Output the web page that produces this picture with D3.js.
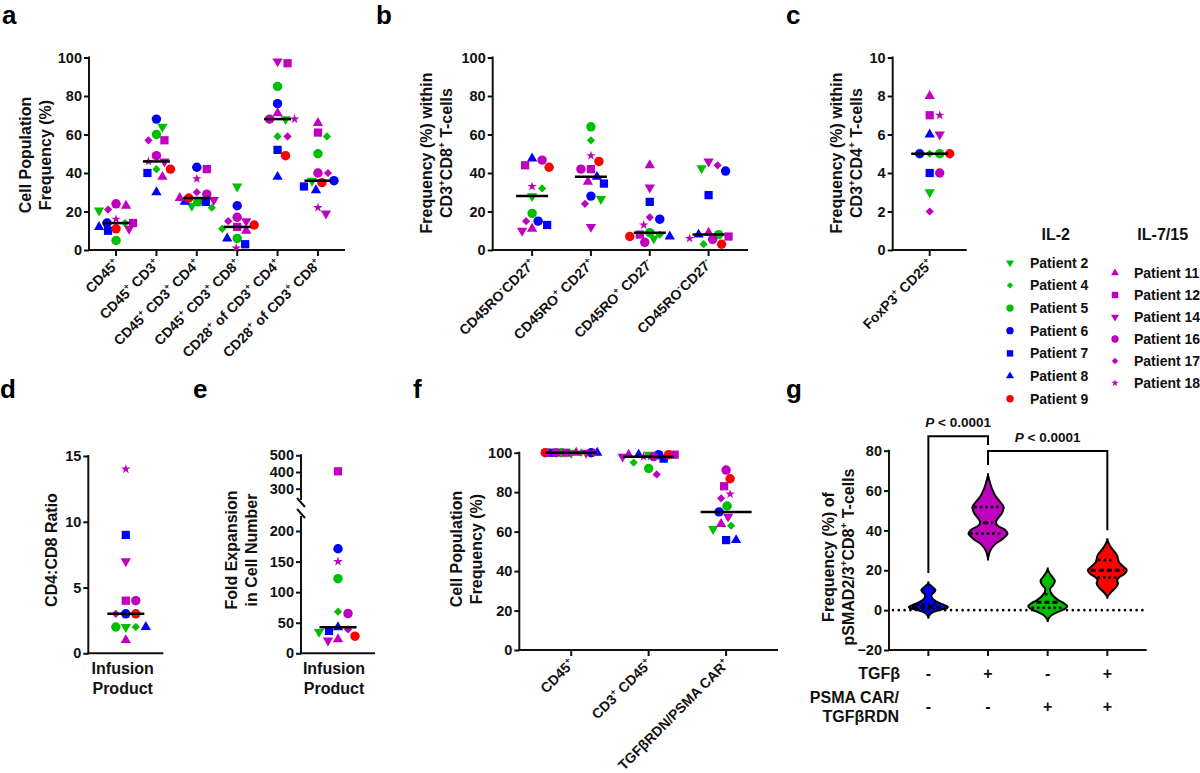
<!DOCTYPE html>
<html><head><meta charset="utf-8">
<script src="https://cdn.jsdelivr.net/npm/d3@7"></script>
<style>
body{margin:0;background:#fff}
svg{display:block}
</style></head><body>
<svg id="chart" width="1200" height="773"></svg>
<script>
// ---------------- DATA ----------------
const il2Patients = ["Patient 2","Patient 4","Patient 5","Patient 6","Patient 7","Patient 8","Patient 9"];
const il715Patients = ["Patient 11","Patient 12","Patient 14","Patient 16","Patient 17","Patient 18"];
const patients = il2Patients.concat(il715Patients);

// panel a (values in patient order above)
const aCategories = ["CD45{+}","CD45{+} CD3{+}","CD45{+} CD3{+} CD4{+}","CD45{+} CD3{+} CD8{+}","CD28{+} of CD3{+} CD4{+}","CD28{+} of CD3{+} CD8{+}"];
const aValues = [
  [20.5,14,5,14,10,12,11,23,14,11,24,21,16],
  [64,42,60,68,40,30,42,38,57,46,49,57,46],
  [23,22,25,43,25,25,27,27,42,26,29,30,37],
  [33,11,6,23,3,6,13,10,12,15,17,15,1],
  [68,59,85,76,52,38,49,71,97,98,68,59,68],
  [36,59,50,36,33,31,35,66,61,19,40,40,22]
];
const aTicks = [0,20,40,60,80,100];

// panel b
const bCategories = ["CD45RO{-}CD27{+}","CD45RO{+} CD27{+}","CD45RO{+} CD27{-}","CD45RO{-}CD27{-}"];
const bValues = [
  [28,32,19,15,13,47.5,43,11,44,10,46.7,15,33],
  [26.5,57,64,28,34.5,38,46,35.5,42,12,42,24,49],
  [6,8,9,16,25,7,7,44,8,32.5,4,17,13],
  [42.5,3,8,41,28.5,8,3,9,7,46,5.5,44,6]
];
const bTicks = [0,20,40,60,80,100];

// panel c
const cCategories = ["FoxP3{+} CD25{+}"];
const cValues = [[3,5,5,5,4,6,5,8,7,6,4,2,7]];
const cTicks = [0,2,4,6,8,10];

// panel d
const dCategories = ["Infusion Product"];
const dValues = [[2,2,2,3,9,2,3,1,4,7,4,3,14]];
const dTicks = [0,5,10,15];

// panel e (broken axis)
const eCategories = ["Infusion Product"];
const eValues = [[35,68,122,171,36.5,42.5,28,23,404,21,65,39,150]];
const eLowerTicks = [0,50,100,150,200];
const eUpperTicks = [300,400,500];

// panel f
const fCategories = ["CD45{+}","CD3{+} CD45{+}","TGFβRDN/PSMA CAR{+}"];
const fValues = [
  [100,100,100,100,100,100,100,100,100,100,100,100,100],
  [99,95,92,99,97,99,99,99,99,98,98,89,98],
  [61.3,63,73,70,55.7,55.7,86.8,63.9,83,67.6,91.2,76.9,79]
];
const fTicks = [0,20,40,60,80,100];

// panel g (violins: [value, relative half-width] profiles)
const gGroups = ["ctrl","tgfb","car","car+tgfb"];
const gTGFb = ["-","+","-","+"];
const gCAR = ["-","-","+","+"];
const gProfiles = [
  [[-3.3,0],[-1.5,0.15],[0,0.55],[1,0.95],[1.7,1],[3,0.7],[4.5,0.38],[6,0.2],[7.5,0.16],[9,0.3],[10,0.36],[11.5,0.22],[13.4,0]],
  [[25.9,0],[30,0.12],[33,0.35],[36,0.78],[38.5,1],[40.5,0.85],[42,0.55],[43.8,0.4],[46,0.5],[48.5,0.7],[51.8,0.8],[54,0.65],[57,0.4],[61,0.2],[64,0.1],[67.7,0]],
  [[-5,0],[-3,0.15],[-1,0.5],[0.5,0.85],[2,1],[3.5,0.82],[5,0.55],[7,0.3],[9,0.15],[10.9,0.13],[12.5,0.27],[14.7,0.37],[16.5,0.25],[18.5,0.1],[20.4,0]],
  [[6.7,0],[9,0.18],[11,0.4],[13.4,0.55],[15,0.5],[16.4,0.6],[18,0.85],[20,1],[22,0.8],[24,0.6],[25.5,0.55],[27.5,0.5],[29.5,0.35],[32,0.15],[35.1,0]]
];
const gQuartiles = [[0.4,1.6,3],[38.5,43.8,51.8],[1.2,4,8],[16.4,20,25.1]];
const gTicks = [-20,0,20,40,60,80];
const gComparisons = [["ctrl","tgfb","P < 0.0001"],["tgfb","car+tgfb","P < 0.0001"]];

// ---------------- STYLE ----------------
const FONT = '"Liberation Sans", Arial, Helvetica, sans-serif';
const INK = "#111";
const GREEN = "#00bf00", BLUE = "#0000ff", RED = "#ff0000", MAG = "#bf00bf";
const patientColors = [GREEN,GREEN,GREEN,BLUE,BLUE,BLUE,RED,MAG,MAG,MAG,MAG,MAG,MAG];
const patientShapes = ["triDown","diamond","circle","circle","square","triUp","circle","triUp","square","triDown","circle","diamond","star"];
const violinColors = [BLUE, MAG, GREEN, RED];

const svg = d3.select("#chart").attr("font-family", FONT).attr("font-weight", "bold");

const shapeDefs = {
  circle:[d3.symbolCircle,70,0], square:[d3.symbolSquare,68,0],
  triUp:[d3.symbolTriangle,46,0], triDown:[d3.symbolTriangle,46,180],
  diamond:[d3.symbolSquare,34,45], star:[d3.symbolStar,28,0]
};
function drawSymbol(g, shape, color, x, y, scale){
  const [t, s, rot] = shapeDefs[shape];
  g.append("path").attr("d", d3.symbol().type(t).size(s*(scale||1))())
    .attr("transform", `translate(${x},${y}) rotate(${rot})`).attr("fill", color);
}

function rich(text, str, fs){
  const parts = str.split(/(\{[^}]*\})/).filter(p => p.length);
  let sup = false;
  parts.forEach(p => {
    if (p.startsWith("{")) {
      text.append("tspan").attr("font-size", fs*0.62).attr("dy", -fs*0.42).text(p.slice(1,-1));
      sup = true;
    } else {
      const t = text.append("tspan").attr("font-size", fs).text(p);
      if (sup) { t.attr("dy", fs*0.42); sup = false; }
    }
  });
  return text;
}

function swarm(values, cx, yScale, D, maxHalf){
  const order = d3.range(values.length).sort((a,b) => d3.descending(values[a], values[b]));
  const placed = [], xs = new Array(values.length);
  for (const i of order) {
    const y = yScale(values[i]);
    let best = 0, bestScore = -Infinity, done = false;
    for (let k = 0; k <= Math.floor(maxHalf) && !done; k++) {
      for (const s of (k === 0 ? [0] : [k, -k])) {
        const md = placed.length ? d3.min(placed, p => Math.hypot(p.x - s, p.y - y)) : Infinity;
        if (md >= D) { best = s; done = true; break; }
        if (md > bestScore) { bestScore = md; best = s; }
      }
    }
    placed.push({x: best, y});
    xs[i] = cx + best;
  }
  return xs;
}

function yAxis(scale, x, ticks, yTop, yBot){
  const g = svg.append("g").attr("transform", `translate(${x},0)`);
  g.call(d3.axisLeft(scale).tickValues(ticks).tickSize(5).tickPadding(2).tickSizeOuter(0));
  g.select(".domain").remove();
  g.selectAll(".tick line").attr("stroke", INK).attr("stroke-width", 2);
  g.selectAll(".tick text").attr("fill", INK).attr("font-size", 14.5)
    .attr("font-family", FONT).attr("font-weight", "bold");
  g.attr("font-family", null).attr("font-size", null);
  if (yTop !== undefined)
    svg.append("line").attr("x1", x).attr("x2", x).attr("y1", yTop - 1).attr("y2", yBot + 1)
      .attr("stroke", INK).attr("stroke-width", 2);
  return g;
}
function xAxisLine(x0, x1, y){
  svg.append("line").attr("x1", x0 - 1).attr("x2", x1).attr("y1", y).attr("y2", y)
    .attr("stroke", INK).attr("stroke-width", 2);
}
function yTitle(lines, xs, cy){
  lines.forEach((l, i) => {
    const t = svg.append("text").attr("transform", `translate(${xs[i]},${cy}) rotate(-90)`)
      .attr("text-anchor", "middle").attr("dy", "0.36em").attr("fill", INK);
    rich(t, l, 16);
  });
}
function letter(ch, x, y){
  svg.append("text").attr("x", x).attr("y", y).attr("font-size", 26).attr("fill", "#000").text(ch);
}

function catPanel(o){
  const y = d3.scaleLinear().domain(o.domain).range([o.yBot, o.yTop]);
  const x = d3.scalePoint().domain(o.cats).range([o.x0, o.x1]).padding(0.67);
  yAxis(y, o.x0, o.ticks, o.yTop, o.yBot);
  xAxisLine(o.x0, o.x1, o.yBot);
  const pg = svg.append("g");
  o.cats.forEach((c, ci) => {
    const cx = x(c);
    if (o.tickMarks) svg.append("line").attr("x1", cx).attr("x2", cx).attr("y1", o.yBot).attr("y2", o.yBot + 6)
      .attr("stroke", INK).attr("stroke-width", 2);
    const vals = o.values[ci];
    const xs = swarm(vals, cx, y, 9.5, o.maxHalf);
    vals.forEach((v, i) => drawSymbol(pg, patientShapes[i], patientColors[i], xs[i], y(v)));
    const med = d3.median(vals);
    svg.append("line").attr("x1", cx - o.medianHalf).attr("x2", cx + o.medianHalf)
      .attr("y1", y(med)).attr("y2", y(med)).attr("stroke", "#000").attr("stroke-width", 2.5);
    if (o.rotLabels) {
      const t = svg.append("text").attr("transform", `translate(${cx + 4},${o.yBot + 15}) rotate(-45)`)
        .attr("text-anchor", "end").attr("fill", INK);
      rich(t, c, 14);
    }
  });
  return {x, y};
}

// ---------------- PANELS ----------------
letter("a", 2, 24); letter("b", 376, 24); letter("c", 786, 24);
letter("d", 0, 398); letter("e", 193, 398); letter("f", 413, 398); letter("g", 786, 398);

// a
catPanel({x0:89, x1:345, yTop:57.5, yBot:250, domain:[0,100], ticks:aTicks, cats:aCategories,
  values:aValues, medianHalf:13.5, maxHalf:17, tickMarks:true, rotLabels:true});
yTitle(["Cell Population","Frequency (%)"], [25,45], 155);

// b
catPanel({x0:492.7, x1:748, yTop:57.5, yBot:250, domain:[0,100], ticks:bTicks, cats:bCategories,
  values:bValues, medianHalf:16, maxHalf:22, tickMarks:true, rotLabels:true});
yTitle(["Frequency (%) within","CD3{+}CD8{+} T-cells"], [426.7,446], 153);

// c
catPanel({x0:892.7, x1:966.7, yTop:57.5, yBot:250, domain:[0,10], ticks:cTicks, cats:cCategories,
  values:cValues, medianHalf:18.5, maxHalf:30, tickMarks:true, rotLabels:true});
yTitle(["Frequency (%) within","CD3{+}CD4{+} T-cells"], [836.7,856], 153);

// legend
function legendCol(title, list, offset, tx, sx, lx, y0, dy){
  svg.append("text").attr("x", tx).attr("y", 240).attr("text-anchor", "middle")
    .attr("font-size", 16).attr("fill", INK).text(title);
  list.forEach((p, i) => {
    const idx = offset + i, yy = y0 + dy*i;
    drawSymbol(svg, patientShapes[idx], patientColors[idx], sx, yy, 0.6);
    svg.append("text").attr("x", lx).attr("y", yy).attr("dy", "0.36em").attr("font-size", 14)
      .attr("fill", INK).text(p);
  });
}
legendCol("IL-2", il2Patients, 0, 1055.7, 1010, 1030, 262.7, 22.67);
legendCol("IL-7/15", il715Patients, 7, 1162.7, 1115, 1134, 273, 22);

// d
catPanel({x0:88.3, x1:163.3, yTop:456, yBot:653.3, domain:[0,15], ticks:dTicks, cats:dCategories,
  values:dValues, medianHalf:18.5, maxHalf:30, tickMarks:false, rotLabels:false});
yTitle(["CD4:CD8 Ratio"], [51.7], 550);
function twoLineLabel(x, words){
  words.forEach((w, i) => svg.append("text").attr("x", x).attr("y", 674 + 20*i)
    .attr("text-anchor", "middle").attr("font-size", 16).attr("fill", INK).text(w));
}
twoLineLabel(122.7, dCategories[0].split(" "));

// e (broken y axis)
(function(){
  const x0 = 301, x1 = 375, yBot = 653.3;
  const yLow = d3.scaleLinear().domain([0,200]).range([653.3,531]);
  const yUp = d3.scaleLinear().domain([300,500]).range([488.7,455.3]);
  const y = v => v > 250 ? yUp(v) : yLow(v);
  yAxis(yLow, x0, eLowerTicks);
  yAxis(yUp, x0, eUpperTicks);
  svg.append("line").attr("x1", x0).attr("x2", x0).attr("y1", 454.3).attr("y2", 500)
    .attr("stroke", INK).attr("stroke-width", 2);
  svg.append("line").attr("x1", x0).attr("x2", x0).attr("y1", 516).attr("y2", yBot + 1)
    .attr("stroke", INK).attr("stroke-width", 2);
  [502.5, 513.5].forEach(yy => svg.append("line").attr("x1", x0 - 4).attr("x2", x0 + 4)
    .attr("y1", yy - 4.5).attr("y2", yy + 4.5).attr("stroke", INK).attr("stroke-width", 2));
  xAxisLine(x0, x1, yBot);
  const x = d3.scalePoint().domain(eCategories).range([x0, x1]).padding(0.67);
  const cx = x(eCategories[0]);
  const vals = eValues[0];
  const xs = swarm(vals, cx, y, 9.5, 30);
  vals.forEach((v, i) => drawSymbol(svg, patientShapes[i], patientColors[i], xs[i], y(v)));
  const med = d3.median(vals);
  svg.append("line").attr("x1", cx - 18.5).attr("x2", cx + 18.5).attr("y1", y(med)).attr("y2", y(med))
    .attr("stroke", "#000").attr("stroke-width", 2.5);
  yTitle(["Fold Expansion","in Cell Number"], [231.7,251.7], 550);
  twoLineLabel(334, eCategories[0].split(" "));
})();

// f
catPanel({x0:519.3, x1:778, yTop:452.7, yBot:650, domain:[0,100], ticks:fTicks, cats:fCategories,
  values:fValues, medianHalf:25.5, maxHalf:26, tickMarks:true, rotLabels:true});
yTitle(["Cell Population","Frequency (%)"], [456.7,476.7], 549);

// g
(function(){
  const x0 = 889, x1 = 1146.7, yTop = 450.7, yBot = 650;
  const y = d3.scaleLinear().domain([-20,80]).range([yBot, yTop]);
  const x = d3.scalePoint().domain(gGroups).range([x0, x1]).padding(0.66);
  const w = d3.scaleLinear().domain([0,1]).range([0,19.5]);
  yAxis(y, x0, gTicks, yTop, yBot);
  xAxisLine(x0, x1, yBot);
  svg.append("line").attr("x1", x0 + 4).attr("x2", x1).attr("y1", y(0)).attr("y2", y(0))
    .attr("stroke", "#000").attr("stroke-width", 2.6).attr("stroke-linecap", "round")
    .attr("stroke-dasharray", "0,5.8");
  gGroups.forEach((gname, gi) => {
    const cx = x(gname);
    svg.append("line").attr("x1", cx).attr("x2", cx).attr("y1", yBot).attr("y2", yBot + 6)
      .attr("stroke", INK).attr("stroke-width", 2);
    const prof = gProfiles[gi];
    const area = d3.area().curve(d3.curveCatmullRom.alpha(0.5))
      .y(d => y(d[0])).x0(d => cx - w(d[1])).x1(d => cx + w(d[1]));
    svg.append("path").attr("d", area(prof)).attr("fill", violinColors[gi])
      .attr("stroke", "#000").attr("stroke-width", 2).attr("stroke-linejoin", "round");
    svg.append("line").attr("x1", cx).attr("x2", cx).attr("y1", y(prof[0][0])).attr("y2", y(prof[0][0]) + 2)
      .attr("stroke", "#000").attr("stroke-width", 2);
    svg.append("line").attr("x1", cx).attr("x2", cx).attr("y1", y(prof[prof.length-1][0])).attr("y2", y(prof[prof.length-1][0]) - 2)
      .attr("stroke", "#000").attr("stroke-width", 2);
    const halfAt = v => {
      const i = d3.bisector(d => d[0]).left(prof, v);
      if (i <= 0 || i >= prof.length) return 0;
      const a = prof[i-1], b = prof[i], t = (v - a[0])/(b[0]-a[0]);
      return w(a[1] + (b[1]-a[1])*t);
    };
    gQuartiles[gi].forEach((q, qi) => {
      const hw = Math.max(0, halfAt(q) - 3);
      const ln = svg.append("line").attr("x1", cx - hw).attr("x2", cx + hw).attr("y1", y(q)).attr("y2", y(q))
        .attr("stroke", "#000");
      if (qi === 1) ln.attr("stroke-width", 3).attr("stroke-dasharray", "5,3");
      else ln.attr("stroke-width", 3).attr("stroke-linecap", "round").attr("stroke-dasharray", "0,5.5");
    });
    svg.append("text").attr("x", cx).attr("y", 679).attr("text-anchor", "middle")
      .attr("font-size", 16).attr("fill", INK).text(gTGFb[gi]);
    svg.append("text").attr("x", cx).attr("y", 712).attr("text-anchor", "middle")
      .attr("font-size", 16).attr("fill", INK).text(gCAR[gi]);
  });
  svg.append("text").attr("x", 900).attr("y", 679).attr("text-anchor", "end").attr("font-size", 16).attr("fill", INK).text("TGFβ");
  svg.append("text").attr("x", 899).attr("y", 703).attr("text-anchor", "end").attr("font-size", 16).attr("fill", INK).text("PSMA CAR/");
  svg.append("text").attr("x", 899).attr("y", 722).attr("text-anchor", "end").attr("font-size", 16).attr("fill", INK).text("TGFβRDN");
  const bracketLevels = [[87.3, 18.6, 82.8],[79.8, 72.8, 40.1]];
  gComparisons.forEach((cmp, i) => {
    const [a, b, label] = cmp, [top, le, re] = bracketLevels[i];
    const xa = x(a), xb = x(b);
    svg.append("path").attr("d", `M${xa},${y(le)}V${y(top)}H${xb}V${y(re)}`)
      .attr("fill", "none").attr("stroke", "#000").attr("stroke-width", 2);
    const t = svg.append("text").attr("x", (xa + xb)/2).attr("y", y(top) - 9).attr("text-anchor", "middle")
      .attr("font-size", 13.5).attr("fill", INK);
    t.append("tspan").attr("font-style", "italic").text(label.slice(0,1));
    t.append("tspan").text(label.slice(1));
  });
  yTitle(["Frequency (%) of","pSMAD2/3{+}CD8{+} T-cells"], [828.3,848.3], 557);
})();
</script>
</body></html>
